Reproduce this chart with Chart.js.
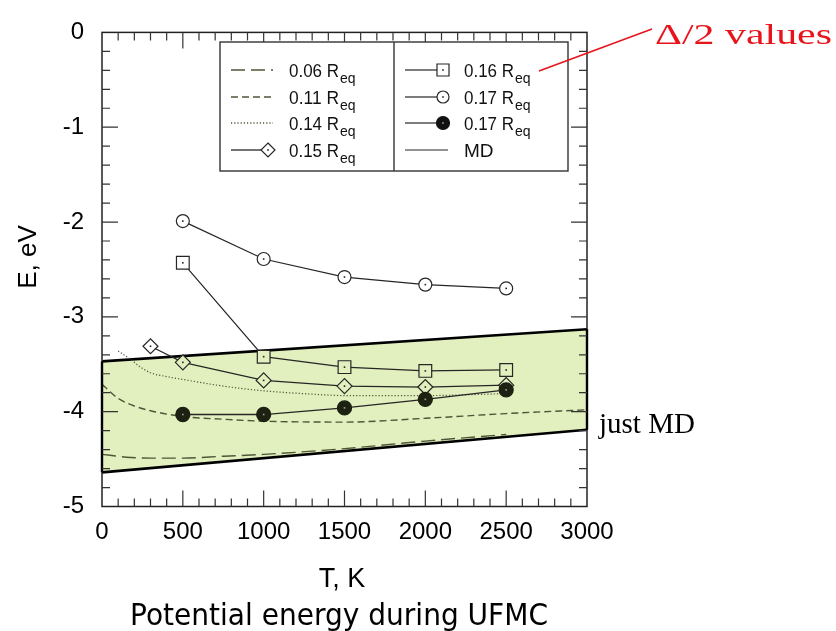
<!DOCTYPE html>
<html>
<head>
<meta charset="utf-8">
<script src="https://cdn.jsdelivr.net/npm/chart.js@4.4.1/dist/chart.umd.min.js"></script>
<style>
html,body{margin:0;padding:0;background:#fff;}
#wrap{position:relative;width:836px;height:631px;}
</style>
</head>
<body>
<div id="wrap"><canvas id="c" width="836" height="631"></canvas></div>
<script>
// ---- data ----
const tempK = [500, 1000, 1500, 2000, 2500];
const e016 = [-2.43, -3.42, -3.53, -3.57, -3.56];          // open squares
const e017open = [-1.99, -2.39, -2.58, -2.66, -2.70];      // open circles
const e017filled = [-4.03, -4.03, -3.96, -3.87, -3.77];    // filled circles
const t015 = [300, 500, 1000, 1500, 2000, 2500];
const e015 = [-3.31, -3.48, -3.67, -3.73, -3.74, -3.72];   // diamonds
const t014 = [100, 170, 230, 300, 400, 500, 750, 1000, 1250, 1500, 2000, 2500];
const e014 = [-3.36, -3.44, -3.52, -3.59, -3.63, -3.66, -3.73, -3.78, -3.81, -3.83, -3.83, -3.81];
const t011 = [0, 50, 100, 200, 300, 500, 750, 1000, 1500, 2000, 2500, 3000];
const e011 = [-3.71, -3.79, -3.86, -3.94, -3.99, -4.05, -4.08, -4.10, -4.11, -4.07, -4.02, -3.98];
const t006 = [0, 50, 150, 300, 500, 750, 1000, 1500, 2000, 2500];
const e006 = [-4.45, -4.46, -4.48, -4.49, -4.49, -4.47, -4.45, -4.39, -4.31, -4.24];
const tMD = [0, 3000];
const eMDtop = [-3.47, -3.13];
const eMDbottom = [-4.64, -4.19];
const xTickValues = [0, 500, 1000, 1500, 2000, 2500, 3000];
const xTickLabels = ['0', '500', '1000', '1500', '2000', '2500', '3000'];
const yTickValues = [0, -1, -2, -3, -4, -5];
const yTickLabels = ['0', '-1', '-2', '-3', '-4', '-5'];
const legendLeft = ['0.06 R', '0.11 R', '0.14 R', '0.15 R'];
const legendRight = ['0.16 R', '0.17 R', '0.17 R', 'MD'];
const legendSub = 'eq';

// ---- styles ----
const BAND = '#e2efbf';
const INK = '#262626';
const CURVE = '#4f5638';

function pts(xs, ys) { return xs.map((x, i) => ({ x: x, y: ys[i] })); }
function bandTopAt(t) { return eMDtop[0] + (eMDtop[1] - eMDtop[0]) * (t - tMD[0]) / (tMD[1] - tMD[0]); }
function bandBotAt(t) { return eMDbottom[0] + (eMDbottom[1] - eMDbottom[0]) * (t - tMD[0]) / (tMD[1] - tMD[0]); }
function markerFill(ctx) {
  const p = ctx.raw;
  if (!p) return '#fff';
  return (p.y <= bandTopAt(p.x) && p.y >= bandBotAt(p.x)) ? BAND : '#fff';
}

const datasets = [
  { label: '0.17 filled', data: pts(tempK, e017filled), showLine: true, borderColor: INK, borderWidth: 1.3,
    pointStyle: 'circle', pointRadius: 7, pointBackgroundColor: '#1d2111', pointBorderColor: '#1d2111', marker: 'filled' },
  { label: '0.17 open', data: pts(tempK, e017open), showLine: true, borderColor: INK, borderWidth: 1.2,
    pointStyle: 'circle', pointRadius: 6.5, pointBackgroundColor: markerFill, pointBorderColor: INK, pointBorderWidth: 1.2, marker: 'open' },
  { label: '0.16', data: pts(tempK, e016), showLine: true, borderColor: INK, borderWidth: 1.2,
    pointStyle: 'rect', pointRadius: 9, pointBackgroundColor: markerFill, pointBorderColor: INK, pointBorderWidth: 1.2, marker: 'open' },
  { label: '0.15', data: pts(t015, e015), showLine: true, borderColor: INK, borderWidth: 1.2,
    pointStyle: 'rectRot', pointRadius: 7.5, pointBackgroundColor: markerFill, pointBorderColor: INK, pointBorderWidth: 1.2, marker: 'open' },
  { label: '0.14', data: pts(t014, e014), showLine: true, borderColor: CURVE, borderWidth: 1.2, borderDash: [1.2, 2],
    pointRadius: 0, cubicInterpolationMode: 'monotone' },
  { label: '0.11', data: pts(t011, e011), showLine: true, borderColor: CURVE, borderWidth: 1.4, borderDash: [7, 4],
    pointRadius: 0, cubicInterpolationMode: 'monotone' },
  { label: '0.06', data: pts(t006, e006), showLine: true, borderColor: CURVE, borderWidth: 1.4, borderDash: [14, 6],
    pointRadius: 0, cubicInterpolationMode: 'monotone' },
  { label: 'MD top', data: pts(tMD, eMDtop), showLine: true, borderColor: '#000', borderWidth: 2.6,
    pointRadius: 0, fill: '+1', backgroundColor: BAND },
  { label: 'MD bottom', data: pts(tMD, eMDbottom), showLine: true, borderColor: '#000', borderWidth: 2.6,
    pointRadius: 0, fill: false }
];

function fitText(ctx, str, x, y, targetW, align) {
  const w = ctx.measureText(str).width;
  const s = targetW ? targetW / w : 1;
  ctx.save();
  ctx.translate(x, y);
  ctx.scale(s, 1);
  ctx.textAlign = 'left';
  const off = align === 'center' ? -w / 2 : (align === 'right' ? -w : 0);
  ctx.fillText(str, off, 0);
  ctx.restore();
}

function drawMarker(ctx, style, x, y, r, fill, stroke) {
  ctx.save();
  ctx.beginPath();
  if (style === 'circle') {
    ctx.arc(x, y, r, 0, Math.PI * 2);
  } else if (style === 'rect') {
    const s = r * Math.SQRT1_2;
    ctx.rect(x - s, y - s, 2 * s, 2 * s);
  } else if (style === 'rectRot') {
    ctx.moveTo(x, y - r); ctx.lineTo(x + r, y); ctx.lineTo(x, y + r); ctx.lineTo(x - r, y); ctx.closePath();
  }
  ctx.fillStyle = fill; ctx.fill();
  ctx.lineWidth = 1.2; ctx.strokeStyle = stroke; ctx.stroke();
  ctx.fillStyle = fill === '#fff' ? INK : '#9a9a8a';
  ctx.fillRect(x - 0.8, y - 0.8, 1.6, 1.6);
  ctx.restore();
}

const deco = {
  id: 'deco',
  afterDatasetsDraw(chart) {
    const ctx = chart.ctx;
    const a = chart.chartArea;
    const xs = chart.scales.x, ys = chart.scales.y;
    // centre dots in markers
    chart.data.datasets.forEach((ds, i) => {
      if (!ds.marker) return;
      const meta = chart.getDatasetMeta(i);
      meta.data.forEach(el => {
        ctx.fillStyle = ds.marker === 'filled' ? '#a0a090' : INK;
        ctx.fillRect(el.x - 0.8, el.y - 0.8, 1.6, 1.6);
      });
    });
    // frame
    ctx.save();
    ctx.strokeStyle = '#222';
    ctx.lineWidth = 1.5;
    ctx.strokeRect(a.left, a.top, a.right - a.left, a.bottom - a.top);
    // band side edges
    ctx.strokeStyle = '#000';
    ctx.lineWidth = 2.4;
    ctx.beginPath();
    ctx.moveTo(xs.getPixelForValue(tMD[0]), ys.getPixelForValue(eMDtop[0]));
    ctx.lineTo(xs.getPixelForValue(tMD[0]), ys.getPixelForValue(eMDbottom[0]));
    ctx.moveTo(xs.getPixelForValue(tMD[1]), ys.getPixelForValue(eMDtop[1]));
    ctx.lineTo(xs.getPixelForValue(tMD[1]), ys.getPixelForValue(eMDbottom[1]));
    ctx.stroke();
    // inward ticks on all sides
    ctx.lineWidth = 1.2;
    ctx.strokeStyle = '#333';
    ctx.beginPath();
    for (let v = 100; v < 3000; v += 100) {
      const px = xs.getPixelForValue(v);
      const len = v % 500 === 0 ? 16 : 8;
      ctx.moveTo(px, a.bottom); ctx.lineTo(px, a.bottom - len);
      ctx.moveTo(px, a.top); ctx.lineTo(px, a.top + len);
    }
    for (let i = 1; i < 25; i++) {
      const py = ys.getPixelForValue(-i * 0.2);
      const len = i % 5 === 0 ? 16 : 8;
      ctx.moveTo(a.left, py); ctx.lineTo(a.left + len, py);
      ctx.moveTo(a.right, py); ctx.lineTo(a.right - len, py);
    }
    ctx.stroke();
    ctx.restore();
  },
  afterDraw(chart) {
    const ctx = chart.ctx;
    ctx.save();
    // legend box
    const bx0 = 220, bx1 = 568, by0 = 42, by1 = 171, div = 394;
    ctx.fillStyle = '#fff';
    ctx.fillRect(bx0, by0, bx1 - bx0, by1 - by0);
    ctx.strokeStyle = '#333'; ctx.lineWidth = 1.4;
    ctx.strokeRect(bx0, by0, bx1 - bx0, by1 - by0);
    ctx.beginPath(); ctx.moveTo(div, by0); ctx.lineTo(div, by1); ctx.stroke();
    const rows = [70, 97, 123, 150];
    const leftDash = [[14, 6], [7, 4], [1.2, 2], []];
    ctx.textBaseline = 'alphabetic';
    rows.forEach((ry, i) => {
      // left column samples
      ctx.save();
      ctx.strokeStyle = i === 3 ? INK : CURVE; ctx.lineWidth = 1.3;
      ctx.setLineDash(leftDash[i]);
      ctx.beginPath(); ctx.moveTo(231, ry); ctx.lineTo(i === 3 ? 262 : 273, ry); ctx.stroke();
      ctx.restore();
      if (i === 3) drawMarker(ctx, 'rectRot', 268, ry, 7, '#fff', INK);
      ctx.fillStyle = '#111';
      ctx.font = '19px "Liberation Sans", Arial, sans-serif';
      fitText(ctx, legendLeft[i], 289, ry + 7, 50, 'left');
      ctx.font = '14px "Liberation Sans", Arial, sans-serif';
      fitText(ctx, legendSub, 340, ry + 13, 0, 'left');
      // right column samples
      ctx.save();
      ctx.strokeStyle = INK; ctx.lineWidth = 1.2;
      ctx.beginPath(); ctx.moveTo(405, ry); ctx.lineTo(i === 3 ? 448 : 437, ry); ctx.stroke();
      ctx.restore();
      if (i === 0) drawMarker(ctx, 'rect', 443, ry, 8.5, '#fff', INK);
      if (i === 1) drawMarker(ctx, 'circle', 443, ry, 6, '#fff', INK);
      if (i === 2) drawMarker(ctx, 'circle', 443, ry, 6.5, '#111', '#111');
      ctx.fillStyle = '#111';
      ctx.font = '19px "Liberation Sans", Arial, sans-serif';
      if (i < 3) {
        fitText(ctx, legendRight[i], 464, ry + 7, 50, 'left');
        ctx.font = '14px "Liberation Sans", Arial, sans-serif';
        fitText(ctx, legendSub, 515, ry + 13, 0, 'left');
      } else {
        fitText(ctx, legendRight[i], 464, ry + 7, 0, 'left');
      }
    });
    // red annotation
    ctx.strokeStyle = '#e8141c'; ctx.lineWidth = 1.6;
    ctx.beginPath(); ctx.moveTo(539, 71); ctx.lineTo(652, 29); ctx.stroke();
    ctx.fillStyle = '#e8141c';
    ctx.font = '30px "Liberation Serif", "Times New Roman", serif';
    fitText(ctx, 'Δ/2 values', 655, 44, 177, 'left');
    // just MD
    ctx.fillStyle = '#000';
    ctx.font = '29px "Liberation Serif", "Times New Roman", serif';
    fitText(ctx, 'just MD', 599, 433, 0, 'left');
    // axis titles
    ctx.fillStyle = '#000';
    ctx.font = '27px "Liberation Sans", Arial, sans-serif';
    fitText(ctx, 'T, K', 342, 587, 0, 'center');
    ctx.save();
    ctx.translate(36, 257);
    ctx.rotate(-Math.PI / 2);
    ctx.font = '26px "Liberation Sans", Arial, sans-serif';
    fitText(ctx, 'E, eV', 0, 0, 0, 'center');
    ctx.restore();
    // caption
    ctx.font = '31px "DejaVu Sans", Verdana, sans-serif';
    fitText(ctx, 'Potential energy during UFMC', 339, 625, 418, 'center');
    ctx.restore();
  }
};

new Chart(document.getElementById('c'), {
  type: 'scatter',
  data: { datasets: datasets },
  options: {
    responsive: false,
    animation: false,
    devicePixelRatio: 1,
    layout: { padding: { left: 0, right: 249, top: 16, bottom: 0 } },
    plugins: { legend: { display: false }, tooltip: { enabled: false }, filler: { drawTime: 'beforeDatasetsDraw' } },
    elements: { line: { tension: 0 } },
    scales: {
      x: {
        type: 'linear', min: 0, max: 3000,
        grid: { display: false, drawTicks: false },
        border: { display: false },
        afterFit: s => { s.height = 124.5; },
        afterBuildTicks: s => { s.ticks = xTickValues.map(v => ({ value: v })); },
        ticks: {
          padding: 11, color: '#000',
          font: { family: '"Liberation Sans", Arial, sans-serif', size: 24 },
          maxRotation: 0, autoSkip: false,
          callback: v => xTickLabels[xTickValues.indexOf(v)]
        }
      },
      y: {
        type: 'linear', min: -5, max: 0,
        grid: { display: false, drawTicks: false },
        border: { display: false },
        afterFit: s => { s.width = 102; },
        afterBuildTicks: s => { s.ticks = yTickValues.map(v => ({ value: v })); },
        ticks: {
          padding: 18, color: '#000',
          font: { family: '"Liberation Sans", Arial, sans-serif', size: 24 },
          autoSkip: false,
          callback: v => yTickLabels[yTickValues.indexOf(v)]
        }
      }
    }
  },
  plugins: [deco]
});
</script>
</body>
</html>
